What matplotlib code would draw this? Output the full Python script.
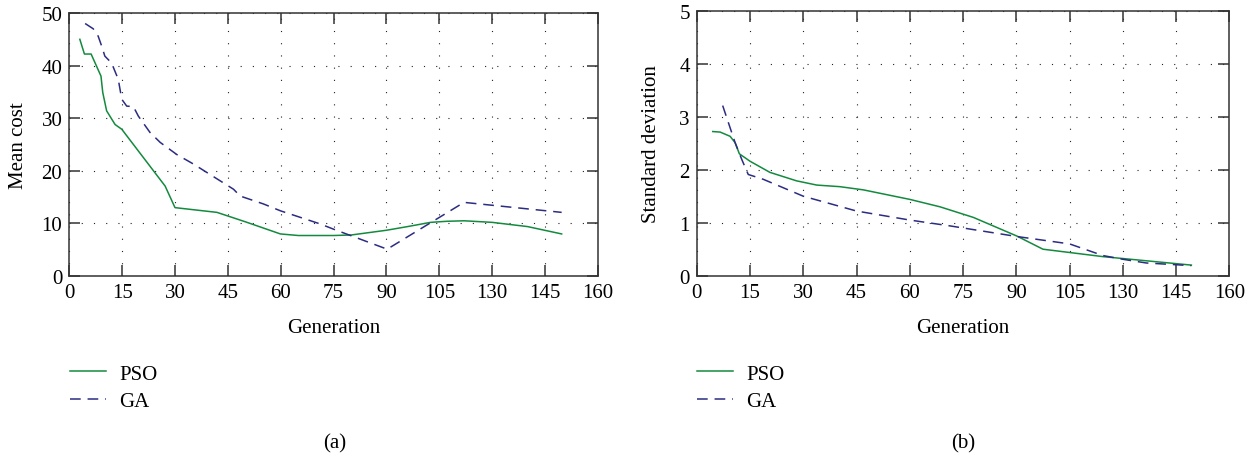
"""Mean cost and standard deviation of PSO vs GA over the generations."""

import matplotlib
matplotlib.use("Agg")
import matplotlib.pyplot as plt

# x positions are in tick units (ticks every 15); the printed labels are uneven
x_ticks = [0, 15, 30, 45, 60, 75, 90, 105, 120, 135, 150]
x_tick_labels = ["0", "15", "30", "45", "60", "75", "90", "105", "130", "145", "160"]

# (a) mean cost
cost_pso_x = [3, 4.3, 6.2, 9, 9.5, 10.6, 13, 14.9, 27.2, 30, 41.9, 50, 59.9,
              65, 75, 80, 90, 96, 102.5, 107, 112, 120, 130, 139.7]
cost_pso_y = [45, 42.2, 42.2, 38, 34.9, 31.4, 28.8, 27.9, 17.1, 13.0, 12.1, 10.3, 8.0,
              7.7, 7.7, 7.8, 8.7, 9.4, 10.2, 10.4, 10.5, 10.2, 9.4, 8.0]
cost_ga_x = [4.5, 6.8, 8.2, 9.2, 10.1, 12, 13.9, 14.9, 16.3, 18.2, 19.6, 22.9, 25.8,
             30.5, 35.2, 46.6, 48.5, 55.1, 59.9, 71.2, 75, 82.6, 90.2, 112, 139.7]
cost_ga_y = [48, 47, 45.6, 43.7, 41.8, 40.5, 37.4, 33.6, 32.3, 32.2, 30.4, 27.3, 25.4,
             23.1, 21.3, 16.5, 15.2, 13.7, 12.4, 9.9, 8.9, 7.0, 5.1, 14.0, 12.1]

# (b) standard deviation
std_pso_x = [4.5, 6.6, 9.4, 10.8, 12, 15, 20.6, 28.1, 33.8, 40.3, 46.9, 60, 68.5,
             77.9, 90.1, 97.5, 114.4, 139.3]
std_pso_y = [2.72, 2.71, 2.63, 2.51, 2.30, 2.16, 1.95, 1.79, 1.71, 1.68, 1.62, 1.44, 1.30,
             1.10, 0.75, 0.50, 0.36, 0.20]
std_ga_x = [7.3, 10.8, 12.7, 14.5, 18.7, 30, 45, 60, 71.3, 90.1, 105, 114.4, 120,
            126.6, 139.3]
std_ga_y = [3.21, 2.51, 2.19, 1.91, 1.82, 1.50, 1.22, 1.05, 0.94, 0.74, 0.60, 0.38, 0.31,
            0.24, 0.19]

PSO_COLOR = "#138a3e"
GA_COLOR = "#2b2c82"
FONT = ["Liberation Serif", "DejaVu Serif"]
FS = 15

plt.rcParams["font.family"] = FONT
plt.rcParams["font.size"] = FS


def style_axes(ax, ymax, ystep, ylabel):
    ax.set_xlim(0, 150)
    ax.set_ylim(0, ymax)
    ax.set_xticks(x_ticks)
    ax.set_xticklabels(x_tick_labels)
    ax.set_yticks([i * ystep for i in range(int(round(ymax / ystep)) + 1)])
    ax.tick_params(direction="in", length=8, width=1.1, color="#333333",
                   top=True, right=True, pad=5, labelsize=FS)
    for sp in ax.spines.values():
        sp.set_linewidth(1.1)
        sp.set_color("#333333")
    ax.grid(True, color="#222222", linestyle=(0, (1, 10)), linewidth=0.8)
    ax.set_axisbelow(True)
    ax.set_xlabel("Generation", fontsize=FS)
    ax.xaxis.set_label_coords(0.5, -0.158)
    ax.set_ylabel(ylabel, fontsize=FS)


def add_legend(ax, fig, x, y):
    ax.legend(loc="upper left", bbox_to_anchor=(x, y), bbox_transform=fig.transFigure,
              frameon=False, fontsize=FS, handlelength=1.75, handletextpad=0.6,
              labelspacing=0.4, borderpad=0, borderaxespad=0)


fig = plt.figure(figsize=(12.57, 4.56), dpi=100)
ax_a = fig.add_axes([0.0551, 0.3925, 0.4206, 0.5768])
ax_b = fig.add_axes([0.5543, 0.3932, 0.4237, 0.5811])

dash = (0, (7, 4.5))
ax_a.plot(cost_pso_x, cost_pso_y, color=PSO_COLOR, lw=1.1, label="PSO")
ax_a.plot(cost_ga_x, cost_ga_y, color=GA_COLOR, lw=1.1, linestyle=dash, label="GA")
style_axes(ax_a, 50, 10, "Mean cost")
ax_a.yaxis.set_label_coords(-0.078, 0.5)

ax_b.plot(std_pso_x, std_pso_y, color=PSO_COLOR, lw=1.1, label="PSO")
ax_b.plot(std_ga_x, std_ga_y, color=GA_COLOR, lw=1.1, linestyle=dash, label="GA")
style_axes(ax_b, 5, 1, "Standard deviation")
ax_b.yaxis.set_label_coords(-0.067, 0.5)

add_legend(ax_a, fig, 70 / 1257, 1 - 365 / 456)
add_legend(ax_b, fig, 697 / 1257, 1 - 365 / 456)

fig.text(335 / 1257, 1 - 444 / 456, "(a)", ha="center", va="center", fontsize=FS)
fig.text(963 / 1257, 1 - 444 / 456, "(b)", ha="center", va="center", fontsize=FS)

fig.savefig("out.png", dpi=100)
